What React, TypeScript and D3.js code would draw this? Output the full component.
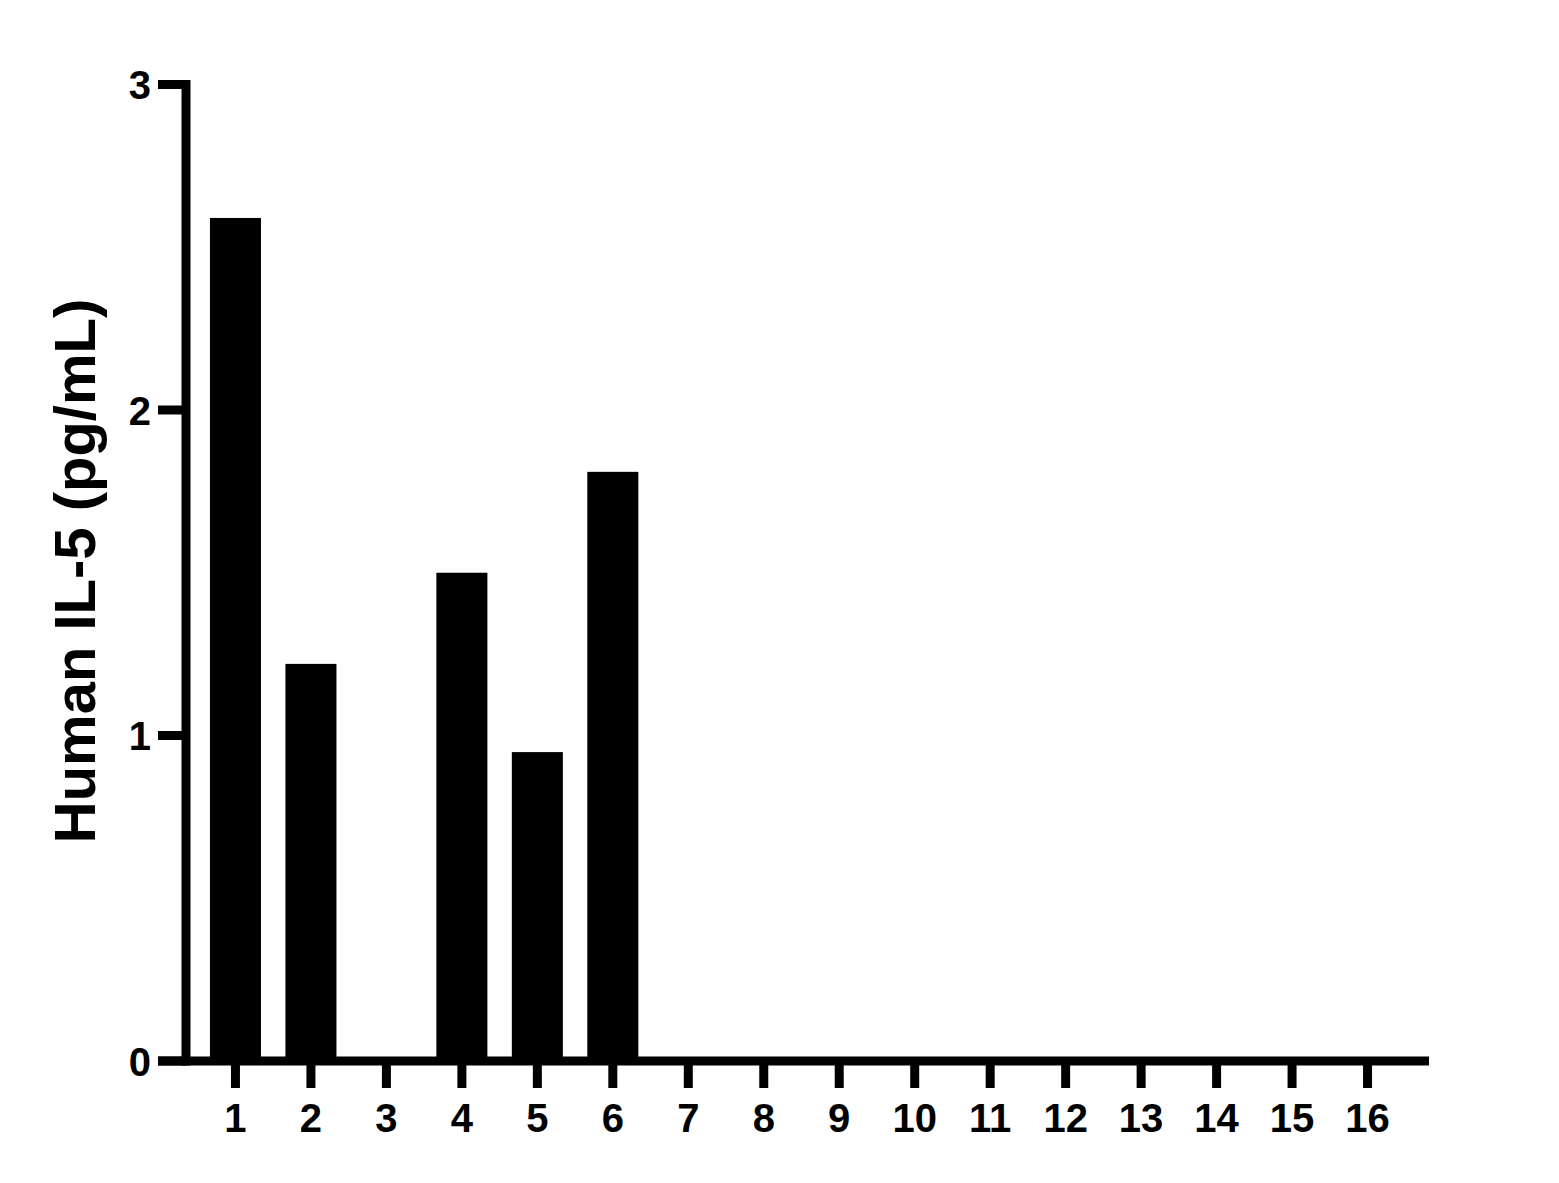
import { useEffect, useRef } from 'react';
import * as d3 from 'd3';

const categories = ['1', '2', '3', '4', '5', '6', '7', '8', '9', '10', '11', '12', '13', '14', '15', '16'];
const values = [2.59, 1.22, 0, 1.5, 0.949, 1.81, 0, 0, 0, 0, 0, 0, 0, 0, 0, 0];
const yTicks = [0, 1, 2, 3];
const yLabel = 'Human IL-5 (pg/mL)';

const W = 1559;
const H = 1183;
const FONT = '"Liberation Sans", Arial, sans-serif';

export default function App() {
  const svgRef = useRef<SVGSVGElement>(null);

  useEffect(() => {
    document.body.style.margin = '0';
    if (!svgRef.current) return;
    const svg = d3.select(svgRef.current);
    svg.selectAll('*').remove();

    const axisX = 186;
    const axisY = 1061;
    const lw = 9;

    const x = d3.scaleBand<string>().domain(categories).range([185.5, 1417.5]).padding(0.324);
    const y = d3.scaleLinear().domain([0, 3]).range([axisY, 84.5]);

    // bars
    svg
      .selectAll('rect.bar')
      .data(values)
      .join('rect')
      .attr('class', 'bar')
      .attr('x', (_, i) => x(categories[i])!)
      .attr('width', x.bandwidth())
      .attr('y', (d) => y(d))
      .attr('height', (d) => y(0) - y(d))
      .attr('fill', '#000');

    // y axis
    svg
      .append('line')
      .attr('x1', axisX)
      .attr('x2', axisX)
      .attr('y1', y(3) - lw / 2)
      .attr('y2', axisY + lw / 2)
      .attr('stroke', '#000')
      .attr('stroke-width', lw);

    const yt = svg.append('g');
    yt.selectAll('line')
      .data(yTicks)
      .join('line')
      .attr('x1', 158)
      .attr('x2', axisX)
      .attr('y1', (d) => y(d))
      .attr('y2', (d) => y(d))
      .attr('stroke', '#000')
      .attr('stroke-width', lw);
    yt.selectAll('text')
      .data(yTicks)
      .join('text')
      .attr('x', 151)
      .attr('y', (d) => y(d) + 14.5)
      .attr('text-anchor', 'end')
      .attr('font-family', FONT)
      .attr('font-weight', 'bold')
      .attr('font-size', 40)
      .text((d) => d);

    // x axis
    svg
      .append('line')
      .attr('x1', 158)
      .attr('x2', 1429)
      .attr('y1', axisY)
      .attr('y2', axisY)
      .attr('stroke', '#000')
      .attr('stroke-width', lw);

    const xt = svg.append('g');
    xt.selectAll('line')
      .data(categories)
      .join('line')
      .attr('x1', (d) => x(d)! + x.bandwidth() / 2)
      .attr('x2', (d) => x(d)! + x.bandwidth() / 2)
      .attr('y1', axisY)
      .attr('y2', 1088)
      .attr('stroke', '#000')
      .attr('stroke-width', lw);
    xt.selectAll('text')
      .data(categories)
      .join('text')
      .attr('x', (d) => x(d)! + x.bandwidth() / 2)
      .attr('y', 1132)
      .attr('text-anchor', 'middle')
      .attr('font-family', FONT)
      .attr('font-weight', 'bold')
      .attr('font-size', 40)
      .text((d) => d);

    // y label
    svg
      .append('text')
      .attr('transform', `translate(95, 571) rotate(-90)`)
      .attr('text-anchor', 'middle')
      .attr('font-family', FONT)
      .attr('font-weight', 'bold')
      .attr('font-size', 58)
      .text(yLabel);
  }, []);

  return <svg ref={svgRef} width={W} height={H} style={{ display: 'block', background: '#fff' }} />;
}
